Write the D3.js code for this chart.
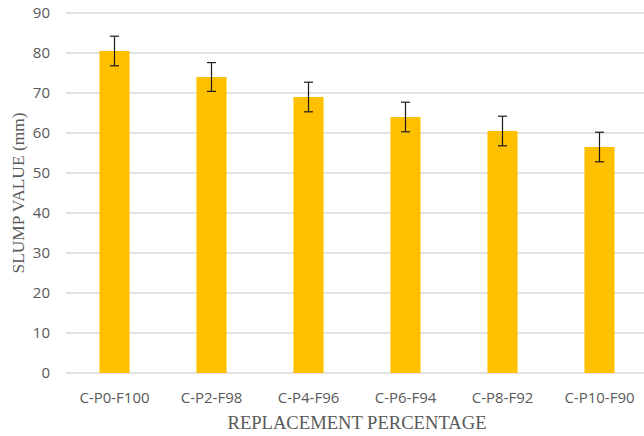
<!DOCTYPE html>
<html><head><meta charset="utf-8">
<script src="https://cdn.jsdelivr.net/npm/d3@7"></script>
<style>body{margin:0;background:#fff}</style>
</head><body>
<script>
const categories = ["C-P0-F100","C-P2-F98","C-P4-F96","C-P6-F94","C-P8-F92","C-P10-F90"];
const values = [80.5, 74, 69, 64, 60.5, 56.5];
const errors = [3.7, 3.6, 3.7, 3.7, 3.7, 3.7];
const yTicks = [0,10,20,30,40,50,60,70,80,90];
const xTitle = "REPLACEMENT PERCENTAGE";
const yTitle = "SLUMP VALUE (mm)";

const W = 644, H = 436;
const svg = d3.select("body").append("svg").attr("width", W).attr("height", H);
const x = d3.scaleBand().domain(categories).range([66, 648]).paddingInner(0.69).paddingOuter(0.345);
const y = d3.scaleLinear().domain([0, 90]).range([373, 13]);

// gridlines
svg.append("g").selectAll("line").data(yTicks).join("line")
  .attr("x1", 66).attr("x2", 648)
  .attr("y1", d => y(d)).attr("y2", d => y(d))
  .attr("stroke", "#d9d9d9").attr("stroke-width", 1.3);

// y axis labels
const yAxis = svg.append("g").attr("transform", "translate(50,0)")
  .call(d3.axisLeft(y).tickValues(yTicks).tickSize(0).tickPadding(0));
yAxis.select(".domain").remove();
yAxis.selectAll("text").attr("font-family", "'Open Sans', sans-serif").attr("font-size", 15).attr("fill", "#595959");

// x axis labels
const xAxis = svg.append("g").attr("transform", "translate(0,383)")
  .call(d3.axisBottom(x).tickSize(0).tickPadding(9));
xAxis.select(".domain").remove();
xAxis.selectAll("text").attr("font-family", "'Open Sans', sans-serif").attr("font-size", 15).attr("fill", "#595959");

// bars
svg.append("g").selectAll("rect").data(values).join("rect")
  .attr("x", (d,i) => x(categories[i]))
  .attr("width", x.bandwidth())
  .attr("y", d => y(d))
  .attr("height", d => y(0) - y(d))
  .attr("fill", "#FFC000");

// error bars
const eb = svg.append("g").attr("stroke", "#1a1a1a").attr("stroke-width", 1.2);
values.forEach((v,i) => {
  const cx = x(categories[i]) + x.bandwidth()/2;
  const top = y(v + errors[i]), bot = y(v - errors[i]);
  eb.append("line").attr("x1", cx).attr("x2", cx).attr("y1", top).attr("y2", bot);
  eb.append("line").attr("x1", cx-4.5).attr("x2", cx+4.5).attr("y1", top).attr("y2", top);
  eb.append("line").attr("x1", cx-4.5).attr("x2", cx+4.5).attr("y1", bot).attr("y2", bot);
});

// titles
svg.append("text").attr("x", 357).attr("y", 429).attr("text-anchor", "middle")
  .attr("font-family", "'Liberation Serif', 'Times New Roman', serif").attr("font-size", 18.6)
  .attr("fill", "#595959").text(xTitle);
svg.append("text").attr("transform", "translate(24,193) rotate(-90)").attr("text-anchor", "middle")
  .attr("font-family", "'Liberation Serif', 'Times New Roman', serif").attr("font-size", 17.4)
  .attr("fill", "#595959").text(yTitle);
</script>
</body></html>
